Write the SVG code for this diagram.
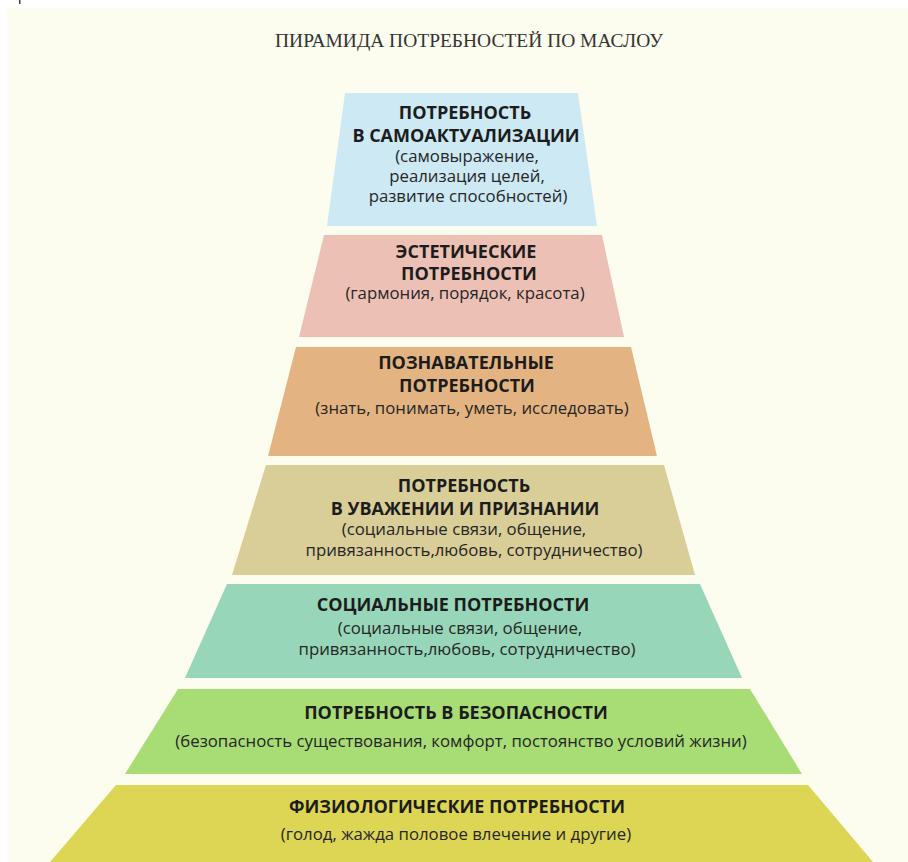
<svg xmlns="http://www.w3.org/2000/svg" width="908" height="862" viewBox="0 0 908 862">
<style>
.t{font-family:"Open Sans","Noto Sans","DejaVu Sans",sans-serif;font-weight:bold;font-size:18px;fill:#1c1c1c;text-anchor:middle}
.b{font-family:"Open Sans","Noto Sans","DejaVu Sans",sans-serif;font-size:16.8px;fill:#262626;text-anchor:middle}
.title{font-family:"Liberation Serif","Times New Roman",serif;font-size:18px;fill:#333;text-anchor:middle}
</style>
<rect x="0" y="0" width="908" height="862" fill="#ffffff"/>
<rect x="7" y="8" width="901" height="854" fill="#fcfcef"/>
<rect x="19" y="0" width="1.5" height="4" fill="#444"/>
<text class="title" x="469" y="47" textLength="388" lengthAdjust="spacingAndGlyphs">ПИРАМИДА ПОТРЕБНОСТЕЙ ПО МАСЛОУ</text>
<g id="tier7">
<polygon points="116,785 808,785 873,862 50,862" fill="#ddd655"/>
<text class="t" x="457" y="813">ФИЗИОЛОГИЧЕСКИЕ ПОТРЕБНОСТИ</text>
<text class="b" x="456" y="840">(голод, жажда половое влечение и другие)</text>
</g>
<g id="tier6">
<polygon points="178,689 750,689 802,774 125,774" fill="#a8dc74"/>
<text class="t" x="456" y="719">ПОТРЕБНОСТЬ В БЕЗОПАСНОСТИ</text>
<text class="b" x="461" y="747">(безопасность существования, комфорт, постоянство условий жизни)</text>
</g>
<g id="tier5">
<polygon points="227,584 700,584 742,678 185,678" fill="#97d6b8"/>
<text class="t" x="453" y="611">СОЦИАЛЬНЫЕ ПОТРЕБНОСТИ</text>
<text class="b" x="460" y="634">(социальные связи, общение,</text>
<text class="b" x="467" y="655">привязанность,любовь, сотрудничество)</text>
</g>
<g id="tier4">
<polygon points="266,465 664,465 695,575 232,575" fill="#d9cd98"/>
<text class="t" x="464" y="492">ПОТРЕБНОСТЬ</text>
<text class="t" x="465" y="515">В УВАЖЕНИИ И ПРИЗНАНИИ</text>
<text class="b" x="464" y="535">(социальные связи, общение,</text>
<text class="b" x="474" y="556">привязанность,любовь, сотрудничество)</text>
</g>
<g id="tier3">
<polygon points="296,347 631,347 657,456 268,456" fill="#e3b482"/>
<text class="t" x="466" y="369">ПОЗНАВАТЕЛЬНЫЕ</text>
<text class="t" x="467" y="392">ПОТРЕБНОСТИ</text>
<text class="b" x="472" y="414">(знать, понимать, уметь, исследовать)</text>
</g>
<g id="tier2">
<polygon points="324,235 602,235 624,337 299,337" fill="#edc0b5"/>
<text class="t" x="466" y="258">ЭСТЕТИЧЕСКИЕ</text>
<text class="t" x="469" y="280">ПОТРЕБНОСТИ</text>
<text class="b" x="465" y="299">(гармония, порядок, красота)</text>
</g>
<g id="tier1">
<polygon points="345,93 578,93 597,226 327,226" fill="#cde9f3"/>
<text class="t" x="465" y="119">ПОТРЕБНОСТЬ</text>
<text class="t" x="466" y="142">В САМОАКТУАЛИЗАЦИИ</text>
<text class="b" x="467" y="162">(самовыражение,</text>
<text class="b" x="467" y="182">реализация целей,</text>
<text class="b" x="468" y="202">развитие способностей)</text>
</g>
<g id="connectors"/>
</svg>
